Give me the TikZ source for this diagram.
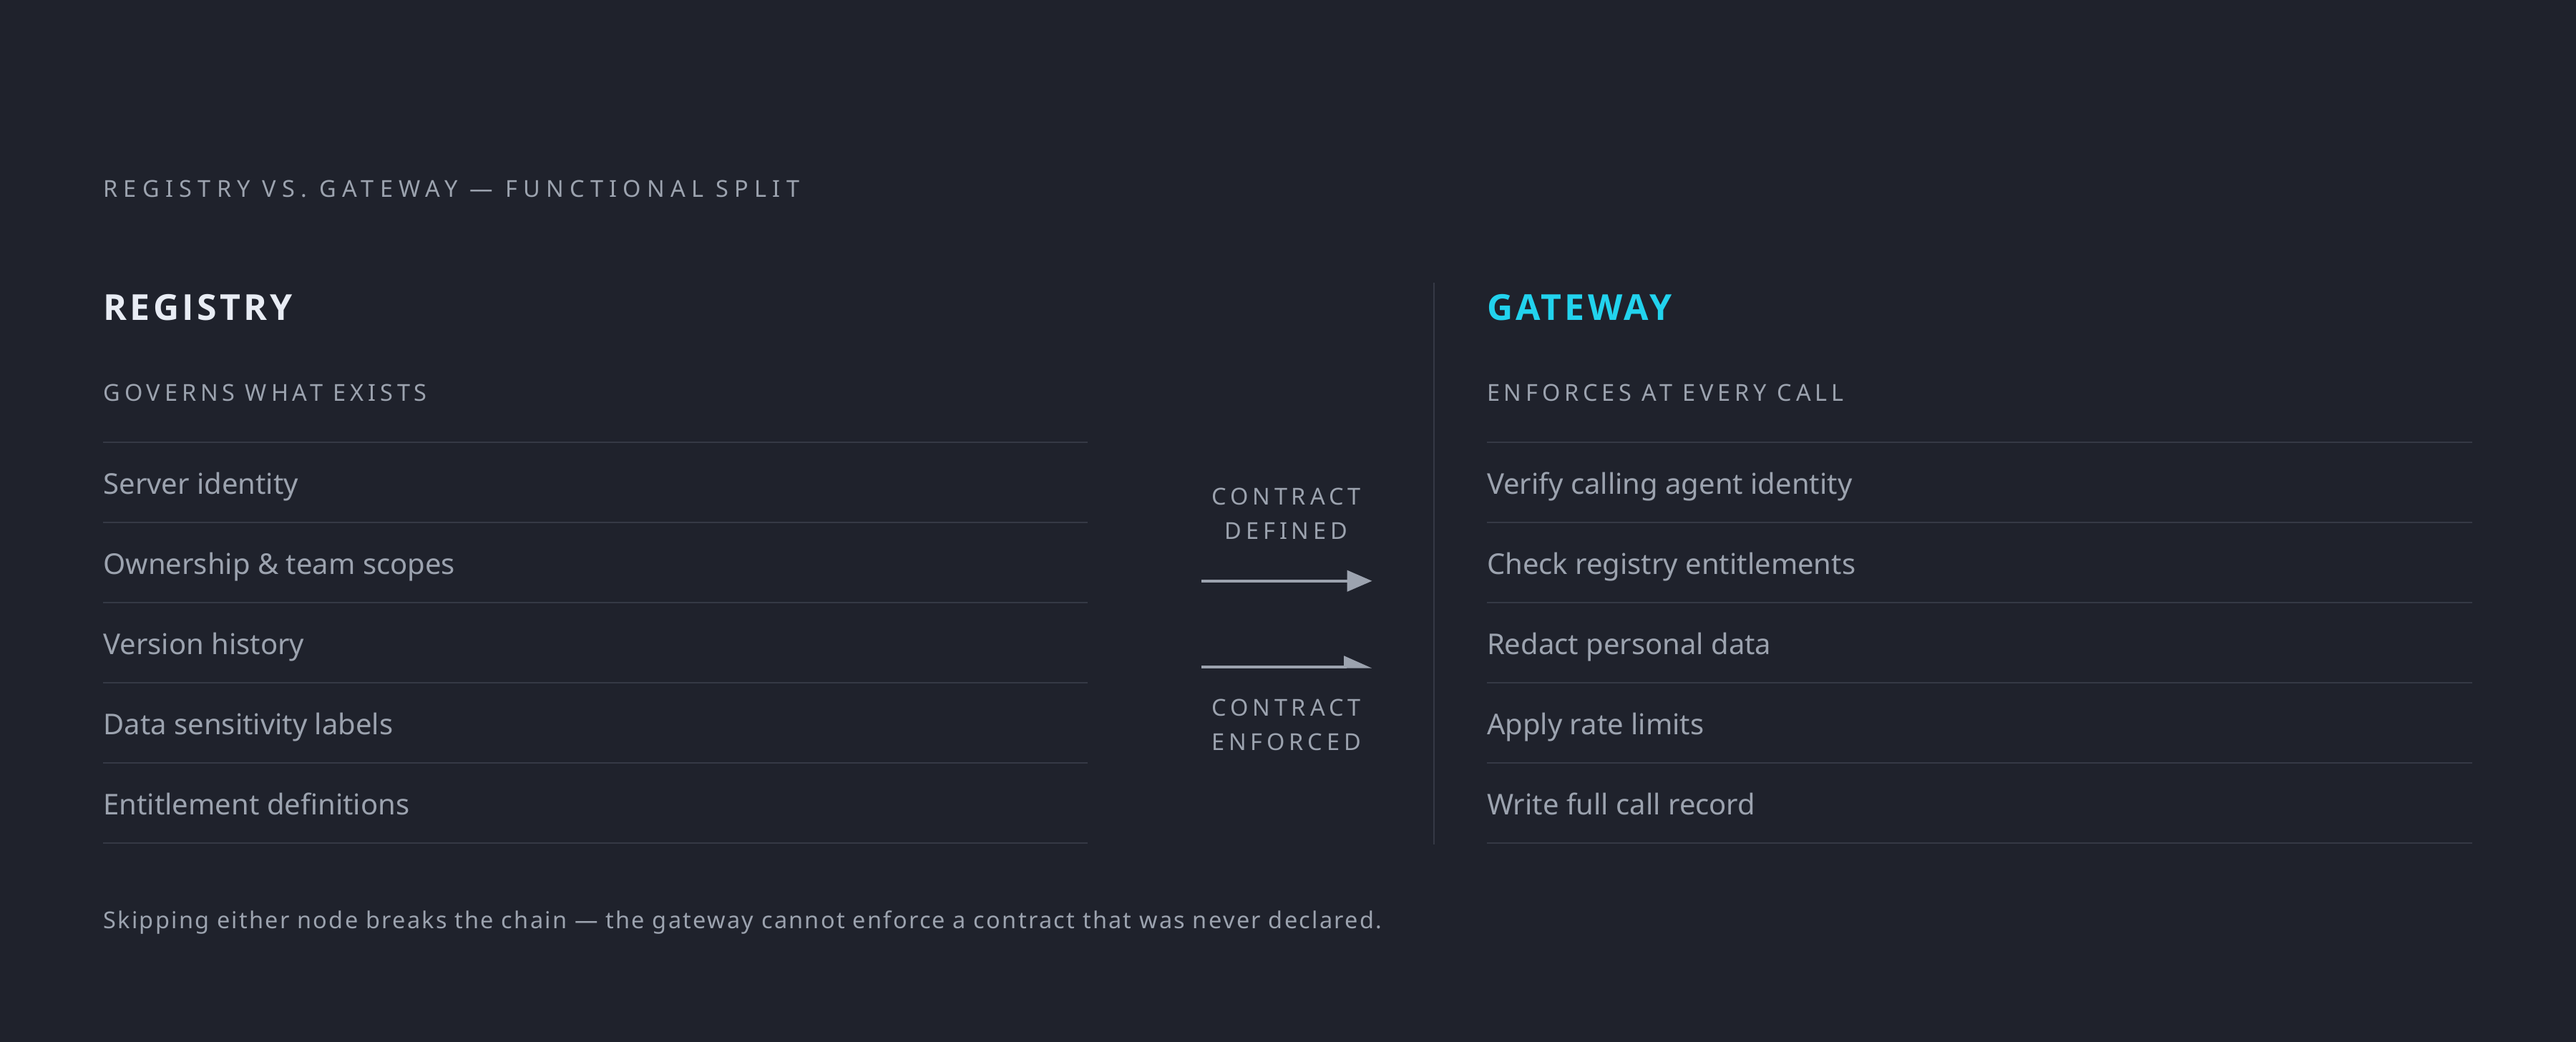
\documentclass[tikz,border=0pt]{standalone}
\usepackage{fontspec}
\setmainfont{Noto Sans}
\newfontfamily\titlefont[LetterSpace=25.5]{Noto Sans}
\newfontfamily\spaced[LetterSpace=18]{Noto Sans}
\newfontfamily\headfont[LetterSpace=8.5]{Open Sans}
\newfontfamily\notefont[LetterSpace=7]{Noto Sans}
\usetikzlibrary{arrows.meta}
\usetikzlibrary{positioning}

\definecolor{bg}{HTML}{1F222C}
\definecolor{muted}{HTML}{9CA3AF}
\definecolor{rule}{HTML}{353945}
\definecolor{bright}{HTML}{E8ECF4}
\definecolor{accent}{HTML}{22D3EE}

\begin{document}
\begin{tikzpicture}[x=1pt, y=-1pt,
    txt/.style = {inner sep=0, anchor=base west, text=muted},
    caps/.style = {txt, font=\spaced\fontsize{13}{15}\selectfont},
    mid/.style = {caps, anchor=base},
    head/.style = {txt, font=\headfont\bfseries\fontsize{20}{24}\selectfont},
    item/.style = {txt, font=\fontsize{16}{19}\selectfont},
    rulel/.style = {draw=rule, line width=1pt},
    flow/.style = {draw=muted, line width=1.5pt}]

    \useasboundingbox (0,0) rectangle (1440,582);
    \fill[bg] (-5,-5) rectangle (1445,587);

    \node[txt, font=\titlefont\fontsize{13}{15}\selectfont] (title) at (57.6,110)
        {REGISTRY VS. GATEWAY — FUNCTIONAL SPLIT};

    % registry column
    \node[head, text=bright] (reg) at (57.6,179) {REGISTRY};
    \node[caps] (regsub) at (57.6,224.3) {GOVERNS WHAT EXISTS};
    \foreach \k in {0,...,5}
        \draw[rulel] (57.6,247.2+44.8*\k) -- (608,247.2+44.8*\k);
    \foreach \t [count=\i] in {Server identity, Ownership \& team scopes,
        Version history, Data sensitivity labels, Entitlement definitions}
        \node[item] (reg\i) at (57.6,231.2+44.8*\i) {\t};

    % gateway column
    \draw[rulel] (801.6,158) -- (801.6,472);
    \node[head, text=accent] (gw) at (831,179) {GATEWAY};
    \node[caps] (gwsub) at (831,224.3) {ENFORCES AT EVERY CALL};
    \foreach \k in {0,...,5}
        \draw[rulel] (831,247.2+44.8*\k) -- (1382,247.2+44.8*\k);
    \foreach \t [count=\i] in {Verify calling agent identity, Check registry entitlements,
        Redact personal data, Apply rate limits, Write full call record}
        \node[item] (gw\i) at (831,231.2+44.8*\i) {\t};

    % contract arrows
    \node[mid] (def1) at (719,282) {CONTRACT};
    \node[mid] (def2) at (719,301.3) {DEFINED};
    \coordinate (defa) at (671.6,324.7);
    \coordinate (defb) at (767,324.7);
    \draw[flow, -{Triangle[length=14pt, width=11.7pt]}] (defa) -- (defb);

    \coordinate (enfa) at (671.6,372.7);
    \coordinate (enfb) at (767,372.7);
    \draw[flow, -{Triangle[harpoon, length=14pt, width=12pt]}] (enfa) -- (enfb);
    \node[mid] (enf1) at (719,400) {CONTRACT};
    \node[mid] (enf2) at (719,419.3) {ENFORCED};

    \node[txt, font=\notefont\fontsize{13}{15}\selectfont] (note) at (57.6,519)
        {Skipping either node breaks the chain — the gateway cannot enforce a contract that was never declared.};

\end{tikzpicture}
\end{document}
